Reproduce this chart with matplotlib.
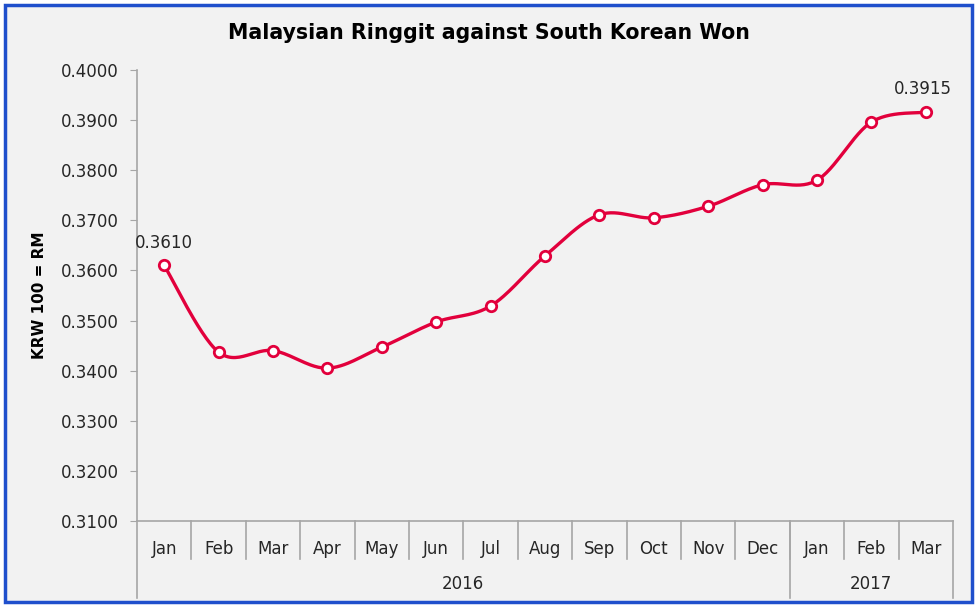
import numpy as np
import matplotlib
matplotlib.use("Agg")
import matplotlib.pyplot as plt
from matplotlib.patches import Rectangle

# data
months = ["Jan", "Feb", "Mar", "Apr", "May", "Jun", "Jul", "Aug", "Sep", "Oct",
          "Nov", "Dec", "Jan", "Feb", "Mar"]
rates = [0.3610, 0.3437, 0.3440, 0.3405, 0.3447, 0.3497, 0.3529, 0.3629,
         0.3711, 0.3705, 0.3728, 0.3771, 0.3780, 0.3896, 0.3916]
years = ["2016", "2017"]
year_counts = [12, 3]
labelled = {0: "0.3610", 14: "0.3915"}

red = "#E2003C"
grey = "#A6A6A6"
bg = "#F2F2F2"


def smooth(xs, ys, n=30):
    # catmull-rom style curve, like Excel's smoothed line
    xs = np.asarray(xs, float)
    ys = np.asarray(ys, float)
    px = np.concatenate([[xs[0]], xs, [xs[-1]]])
    py = np.concatenate([[ys[0]], ys, [ys[-1]]])
    outx, outy = [], []
    t = np.linspace(0, 1, n)
    for i in range(1, len(px) - 2):
        p0x, p1x, p2x, p3x = px[i - 1], px[i], px[i + 1], px[i + 2]
        p0y, p1y, p2y, p3y = py[i - 1], py[i], py[i + 1], py[i + 2]
        c1x = p1x + (p2x - p0x) / 6
        c1y = p1y + (p2y - p0y) / 6
        c2x = p2x - (p3x - p1x) / 6
        c2y = p2y - (p3y - p1y) / 6
        bx = (1 - t) ** 3 * p1x + 3 * (1 - t) ** 2 * t * c1x + 3 * (1 - t) * t ** 2 * c2x + t ** 3 * p2x
        by = (1 - t) ** 3 * p1y + 3 * (1 - t) ** 2 * t * c1y + 3 * (1 - t) * t ** 2 * c2y + t ** 3 * p2y
        outx.extend(bx)
        outy.extend(by)
    return np.array(outx), np.array(outy)


fig = plt.figure(figsize=(9.77, 6.06), dpi=100, facecolor="white")
fig.patches.append(Rectangle((0.0055, 0.006), 0.989, 0.986, transform=fig.transFigure,
                             facecolor=bg, edgecolor="#1F4FCC", linewidth=2.5, zorder=-10))
ax = fig.add_axes([0.1402, 0.1403, 0.8352, 0.7442])
ax.set_facecolor(bg)

x = np.arange(len(months))
sx, sy = smooth(x, rates)
ax.plot(sx, sy, color=red, linewidth=2.4, zorder=3)
ax.plot(x, rates, linestyle="none", marker="o", markersize=7.5, markerfacecolor="white",
        markeredgecolor=red, markeredgewidth=2, zorder=4)

for i, txt in labelled.items():
    ax.annotate(txt, (x[i], rates[i]), xytext=(-2 if i else 0, 10), textcoords="offset points",
                ha="center", va="bottom", fontsize=12, color="#262626")

ax.set_xlim(-0.5, len(months) - 0.5)
ax.set_ylim(0.31, 0.40)
ax.set_yticks(np.arange(0.31, 0.4001, 0.01))
ax.set_yticklabels(["%.4f" % v for v in np.arange(0.31, 0.4001, 0.01)])
ax.tick_params(axis="y", length=5, color=grey, labelsize=12, labelcolor="#262626", pad=8)
ax.set_xticks([])
for s in ["top", "right"]:
    ax.spines[s].set_visible(False)
ax.spines["left"].set_color(grey)
ax.spines["bottom"].set_color(grey)
ax.spines["left"].set_linewidth(1.2)
ax.spines["bottom"].set_linewidth(1.2)

# two-level category axis
tr = ax.get_xaxis_transform()
for i, m in enumerate(months):
    ax.text(i, -0.062, m, transform=tr, ha="center", va="center", fontsize=12, color="#262626")
    if i > 0:
        ax.plot([i - 0.5, i - 0.5], [0, -0.084], transform=tr, color=grey, lw=1.2, clip_on=False)
start = -0.5
for yr, cnt in zip(years, year_counts):
    ax.plot([start, start], [0, -0.171], transform=tr, color=grey, lw=1.2, clip_on=False)
    ax.text(start + cnt / 2, -0.14, yr, transform=tr, ha="center", va="center",
            fontsize=12, color="#262626")
    start += cnt
ax.plot([start, start], [0, -0.171], transform=tr, color=grey, lw=1.2, clip_on=False)

ax.set_ylabel("KRW 100 = RM", fontsize=11, fontweight="bold", labelpad=10)
fig.text(0.5, 0.945, "Malaysian Ringgit against South Korean Won", ha="center", va="center",
         fontsize=14.8, fontweight="bold")

fig.savefig("out.png", dpi=100, facecolor=fig.get_facecolor())
